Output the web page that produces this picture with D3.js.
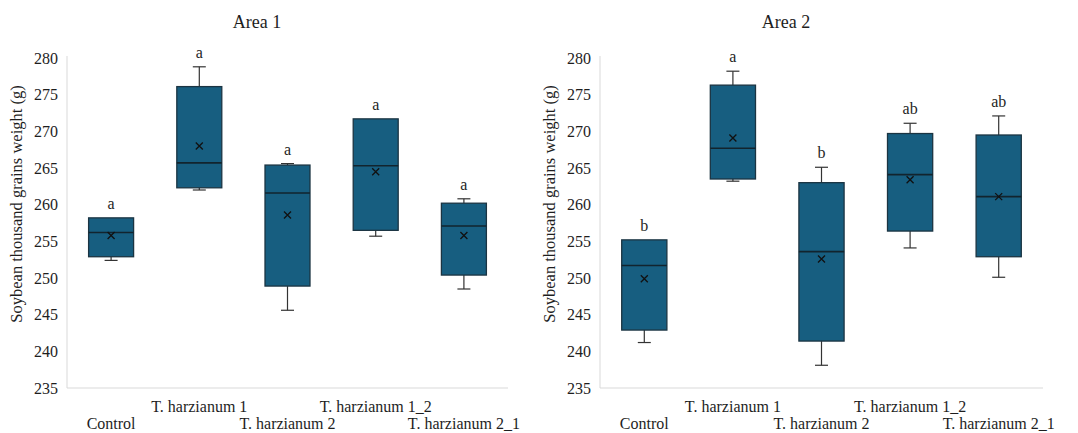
<!DOCTYPE html>
<html>
<head>
<meta charset="utf-8">
<script src="https://cdn.jsdelivr.net/npm/d3@7"></script>
<style>
  body { margin: 0; background: #fff; }
</style>
</head>
<body>
<script>
// categories and values
var categories = ["Control", "T. harzianum 1", "T. harzianum 2", "T. harzianum 1_2", "T. harzianum 2_1"];
var yTicks = [235, 240, 245, 250, 255, 260, 265, 270, 275, 280];

// Area 1
var area1Min    = [252.4, 262.0, 245.6, 255.7, 248.5];
var area1Q1     = [252.9, 262.3, 248.9, 256.5, 250.4];
var area1Median = [256.2, 265.7, 261.6, 265.3, 257.1];
var area1Q3     = [258.2, 276.1, 265.4, 271.7, 260.2];
var area1Max    = [258.2, 278.8, 265.6, 271.7, 260.8];
var area1Mean   = [255.8, 268.0, 258.6, 264.5, 255.8];
var area1Letters = ["a", "a", "a", "a", "a"];

// Area 2
var area2Min    = [241.2, 263.2, 238.1, 254.1, 250.1];
var area2Q1     = [242.9, 263.5, 241.4, 256.4, 252.9];
var area2Median = [251.7, 267.7, 253.6, 264.1, 261.1];
var area2Q3     = [255.2, 276.3, 263.0, 269.7, 269.5];
var area2Max    = [255.2, 278.2, 265.1, 271.1, 272.1];
var area2Mean   = [249.9, 269.1, 252.6, 263.4, 261.1];
var area2Letters = ["b", "a", "b", "ab", "ab"];

var boxFill = "#175e80";
var boxStroke = "#1b3442";
var serif = "'Liberation Serif', 'Times New Roman', serif";

var svg = d3.select("body").append("svg")
    .attr("width", 1078)
    .attr("height", 433);

function label(g, size) {
    return g.append("text")
        .style("font-family", serif)
        .style("font-size", size)
        .style("fill", "#1e1e1e");
}

function drawPanel(opt) {
    var x = d3.scaleBand().domain(categories).range([opt.left, opt.right]).paddingInner(0.49).paddingOuter(0.245);
    var y = d3.scaleLinear().domain([235, 280]).range([388, 58]);
    var g = svg.append("g");

    // title
    label(g, "18px")
        .attr("x", opt.titleX).attr("y", 28)
        .attr("text-anchor", "middle")
        .text(opt.title);

    // y axis label
    label(g, "16.5px")
        .attr("transform", "translate(" + opt.labelX + ",204) rotate(-90)")
        .attr("text-anchor", "middle")
        .text("Soybean thousand grains weight  (g)");

    // axis lines
    g.append("line")
        .attr("x1", opt.left).attr("x2", opt.left)
        .attr("y1", y(280) - 2).attr("y2", y(235))
        .style("stroke", "#d9d9d9").style("stroke-width", "1px");
    g.append("line")
        .attr("x1", opt.left).attr("x2", opt.right)
        .attr("y1", y(235)).attr("y2", y(235))
        .style("stroke", "#d9d9d9").style("stroke-width", "1px");

    // tick labels
    yTicks.forEach(function(d) {
        label(g, "16px")
            .attr("x", opt.left - 9).attr("y", y(d))
            .attr("dy", "0.35em")
            .attr("text-anchor", "end")
            .text(d);
    });

    // category labels, staggered
    categories.forEach(function(d, i) {
        label(g, "16px")
            .attr("x", x(d) + x.bandwidth() / 2)
            .attr("y", i % 2 ? 412 : 429)
            .attr("text-anchor", "middle")
            .text(d);
    });

    var idx = d3.range(categories.length);
    var bw = x.bandwidth();
    var cx = function(i) { return x(categories[i]) + bw / 2; };

    // whiskers
    idx.forEach(function(i) {
        var c = cx(i);
        if (opt.max[i] > opt.q3[i] + 0.05) {
            g.append("line").attr("x1", c).attr("x2", c).attr("y1", y(opt.max[i])).attr("y2", y(opt.q3[i]))
                .style("stroke", "#333").style("stroke-width", "1.2px");
            g.append("line").attr("x1", c - 6.5).attr("x2", c + 6.5).attr("y1", y(opt.max[i])).attr("y2", y(opt.max[i]))
                .style("stroke", "#333").style("stroke-width", "1.2px");
        }
        if (opt.min[i] < opt.q1[i] - 0.05) {
            g.append("line").attr("x1", c).attr("x2", c).attr("y1", y(opt.q1[i])).attr("y2", y(opt.min[i]))
                .style("stroke", "#333").style("stroke-width", "1.2px");
            g.append("line").attr("x1", c - 6.5).attr("x2", c + 6.5).attr("y1", y(opt.min[i])).attr("y2", y(opt.min[i]))
                .style("stroke", "#333").style("stroke-width", "1.2px");
        }
    });

    // boxes
    g.selectAll(".box").data(idx).enter().append("rect")
        .attr("x", function(i) { return x(categories[i]); })
        .attr("y", function(i) { return y(opt.q3[i]); })
        .attr("width", bw)
        .attr("height", function(i) { return y(opt.q1[i]) - y(opt.q3[i]); })
        .style("fill", boxFill)
        .style("stroke", boxStroke)
        .style("stroke-width", "1.3px");

    // medians
    g.selectAll(".med").data(idx).enter().append("line")
        .attr("x1", function(i) { return x(categories[i]); })
        .attr("x2", function(i) { return x(categories[i]) + bw; })
        .attr("y1", function(i) { return y(opt.median[i]); })
        .attr("y2", function(i) { return y(opt.median[i]); })
        .style("stroke", "#12242e").style("stroke-width", "1.6px");

    // mean markers
    idx.forEach(function(i) {
        var c = cx(i), m = y(opt.mean[i]), s = 3.5;
        g.append("path")
            .attr("d", "M" + (c - s) + "," + (m - s) + "L" + (c + s) + "," + (m + s) + "M" + (c - s) + "," + (m + s) + "L" + (c + s) + "," + (m - s))
            .style("stroke", "#111").style("stroke-width", "1.3px");
    });

    // significance letters
    idx.forEach(function(i) {
        label(g, "16px")
            .attr("x", cx(i))
            .attr("y", y(Math.max(opt.max[i], opt.q3[i])) - 9)
            .attr("text-anchor", "middle")
            .text(opt.letters[i]);
    });
}

drawPanel({
    title: "Area  1", titleX: 257, labelX: 22, left: 67, right: 508,
    min: area1Min, q1: area1Q1, median: area1Median, q3: area1Q3, max: area1Max,
    mean: area1Mean, letters: area1Letters
});

drawPanel({
    title: "Area  2", titleX: 786, labelX: 555, left: 600, right: 1043,
    min: area2Min, q1: area2Q1, median: area2Median, q3: area2Q3, max: area2Max,
    mean: area2Mean, letters: area2Letters
});
</script>
</body>
</html>
